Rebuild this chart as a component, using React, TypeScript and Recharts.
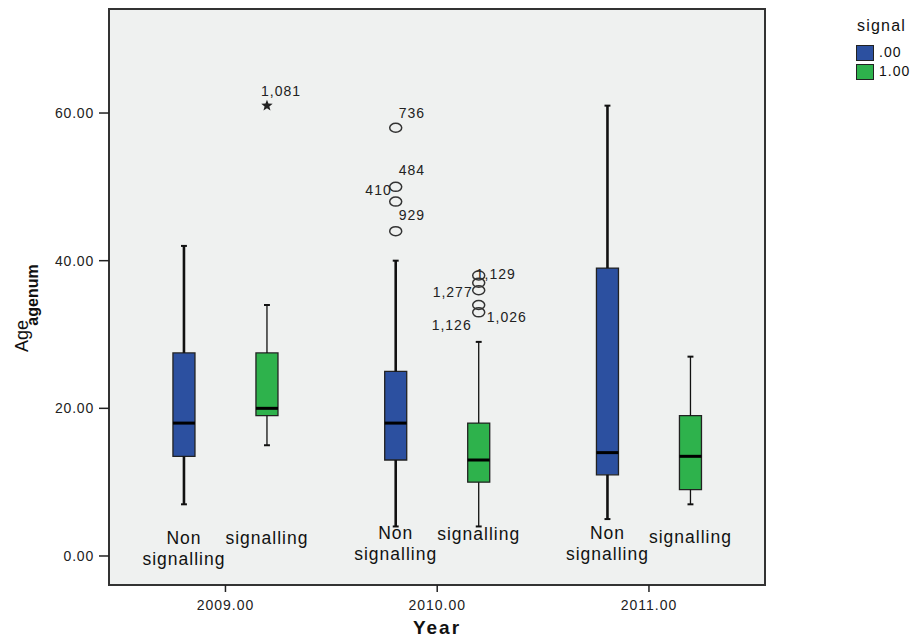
import React from 'react';
import { ComposedChart, Scatter, XAxis, YAxis, ReferenceArea, ReferenceLine } from 'recharts';

// ---------- data ----------
const YEARS = [2009, 2010, 2011];
const GROUP_NAMES = ['.00', '1.00'];
const GROUP_TEXT = [['Non', 'signalling'], ['signalling']];
const Y_TICKS = [0, 20, 40, 60];

// Non signalling (.00)
const NS_MIN = [7, 4, 5];
const NS_Q1 = [13.5, 13, 11];
const NS_MED = [18, 18, 14];
const NS_Q3 = [27.5, 25, 39];
const NS_MAX = [42, 40, 61];

// signalling (1.00)
const S_MIN = [15, 4, 7];
const S_Q1 = [19, 10, 9];
const S_MED = [20, 13, 13.5];
const S_Q3 = [27.5, 18, 19];
const S_MAX = [34, 29, 27];

const OUTLIERS = [
  { year: 2009, group: 1, value: 61, id: '1,081', extreme: true },
  { year: 2010, group: 0, value: 58, id: '736', extreme: false },
  { year: 2010, group: 0, value: 50, id: '484', extreme: false },
  { year: 2010, group: 0, value: 48, id: '410', extreme: false },
  { year: 2010, group: 0, value: 44, id: '929', extreme: false },
  { year: 2010, group: 1, value: 38, id: '1,129', extreme: false },
  { year: 2010, group: 1, value: 37, id: '', extreme: false },
  { year: 2010, group: 1, value: 36, id: '1,277', extreme: false },
  { year: 2010, group: 1, value: 34, id: '1,126', extreme: false },
  { year: 2010, group: 1, value: 33, id: '1,026', extreme: false },
];

// ---------- layout / style ----------
const X_DOMAIN = [2008.45, 2011.548];
const Y_DOMAIN = [-3.93, 74.09];
const GROUP_OFFSET = [-0.196, 0.196];
const BOX_HALF = 0.052;
const CAP_HALF = 0.014;
const COLORS = ['#2c50a0', '#2eb24c'];
const WHISKER_W = [2.6, 1.3];
const BG = '#eff1f0';
const FONT = '"Liberation Sans", Arial, sans-serif';
const CAT_LABEL_Y = [[2.44, 2.44], [3.12, 2.98], [3.12, 2.57]];
const LABEL_OFFSETS: Record<string, { dx: number; dy: number; anchor: string }> = {
  '1,081': { dx: -6, dy: -10, anchor: 'start' },
  '736': { dx: 3, dy: -10, anchor: 'start' },
  '484': { dx: 3, dy: -12, anchor: 'start' },
  '410': { dx: -4, dy: -7, anchor: 'end' },
  '929': { dx: 3, dy: -11, anchor: 'start' },
  '1,129': { dx: -3, dy: 4, anchor: 'start' },
  '1,277': { dx: -6, dy: 7, anchor: 'end' },
  '1,126': { dx: -7, dy: 25, anchor: 'end' },
  '1,026': { dx: 8, dy: 10, anchor: 'start' },
};

const STATS = [
  { min: NS_MIN, q1: NS_Q1, med: NS_MED, q3: NS_Q3, max: NS_MAX },
  { min: S_MIN, q1: S_Q1, med: S_MED, q3: S_Q3, max: S_MAX },
];

const boxes = YEARS.flatMap((year, i) =>
  STATS.map((s, g) => ({
    key: `${year}-${g}`,
    g,
    c: year + GROUP_OFFSET[g],
    min: s.min[i],
    q1: s.q1[i],
    med: s.med[i],
    q3: s.q3[i],
    max: s.max[i],
  }))
);

const outlierData = OUTLIERS.map((o) => ({
  x: o.year + GROUP_OFFSET[o.group],
  y: o.value,
  id: o.id,
  extreme: o.extreme,
}));

const catLabelData = YEARS.flatMap((year, i) =>
  GROUP_TEXT.map((lines, g) => ({
    x: year + GROUP_OFFSET[g],
    y: CAT_LABEL_Y[i][g],
    lines,
  }))
);

function starPath(cx: number, cy: number, R: number, r: number) {
  let d = '';
  for (let k = 0; k < 10; k++) {
    const ang = -Math.PI / 2 + (k * Math.PI) / 5;
    const rad = k % 2 === 0 ? R : r;
    d += (k === 0 ? 'M' : 'L') + (cx + rad * Math.cos(ang)).toFixed(2) + ',' + (cy + rad * Math.sin(ang)).toFixed(2);
  }
  return d + 'Z';
}

const OutlierShape = (props: any) => {
  const { cx, cy, payload } = props;
  if (cx == null || cy == null) return null;
  const off = LABEL_OFFSETS[payload.id];
  return (
    <g>
      {payload.extreme ? (
        <path d={starPath(cx, cy, 6, 2.5)} fill="#222" />
      ) : (
        <ellipse cx={cx} cy={cy} rx={6} ry={4.5} fill="none" stroke="#333" strokeWidth={1.5} />
      )}
      {payload.id && off ? (
        <text
          x={cx + off.dx}
          y={cy + off.dy}
          textAnchor={off.anchor as any}
          fontSize={14}
          letterSpacing={1}
          fill="#222"
          fontFamily={FONT}
        >
          {payload.id}
        </text>
      ) : null}
    </g>
  );
};

const CatLabelShape = (props: any) => {
  const { cx, cy, payload } = props;
  if (cx == null || cy == null) return null;
  return (
    <g>
      {payload.lines.map((t: string, k: number) => (
        <text
          key={k}
          x={cx}
          y={cy + k * 21}
          textAnchor="middle"
          dominantBaseline="central"
          fontSize={17.5}
          letterSpacing={1}
          fill="#111"
          fontFamily={FONT}
        >
          {t}
        </text>
      ))}
    </g>
  );
};

const YLabel = () => (
  <g fontFamily={FONT} fill="#111">
    <text x={0} y={0} transform="translate(28,336) rotate(-90)" textAnchor="middle" fontSize={18}>
      Age
    </text>
    <text x={0} y={0} transform="translate(38,295) rotate(-90)" textAnchor="middle" fontSize={16} fontWeight="bold">
      agenum
    </text>
  </g>
);

const XLabel = (props: any) => {
  const vb = props.viewBox || {};
  return (
    <text
      x={vb.x + vb.width / 2}
      y={634}
      textAnchor="middle"
      fontSize={19}
      fontWeight="bold"
      letterSpacing={2}
      fill="#111"
      fontFamily={FONT}
    >
      Year
    </text>
  );
};

export default function App() {
  return (
    <div style={{ position: 'absolute', left: 0, top: 0, width: 916, height: 639, background: '#fff', fontFamily: FONT }}>
      <ComposedChart width={916} height={639} margin={{ top: 9, right: 151, left: 0, bottom: 0 }}>
        <XAxis
          type="number"
          dataKey="x"
          domain={X_DOMAIN}
          ticks={YEARS}
          allowDataOverflow
          tickFormatter={(v: number) => v.toFixed(2)}
          axisLine={false}
          tickLine={{ stroke: '#222', strokeWidth: 1.5 }}
          tickSize={7}
          tickMargin={8}
          height={54}
          tick={{ fontSize: 14, fill: '#222', letterSpacing: 1, fontFamily: FONT }}
          label={{ content: XLabel }}
        />
        <YAxis
          type="number"
          dataKey="y"
          domain={Y_DOMAIN}
          ticks={Y_TICKS}
          allowDataOverflow
          tickFormatter={(v: number) => v.toFixed(2)}
          axisLine={false}
          tickLine={{ stroke: '#222', strokeWidth: 1.5 }}
          tickSize={10}
          tickMargin={5}
          width={109}
          tick={{ fontSize: 14, fill: '#222', letterSpacing: 0.8, fontFamily: FONT }}
          label={{ content: YLabel }}
        />
        <ReferenceArea
          x1={X_DOMAIN[0]}
          x2={X_DOMAIN[1]}
          y1={Y_DOMAIN[0]}
          y2={Y_DOMAIN[1]}
          fill={BG}
          fillOpacity={1}
          stroke="#333"
          strokeWidth={2}
          ifOverflow="visible"
          zIndex={-50}
        />
        {boxes.map((b) => (
          <ReferenceArea
            key={'box' + b.key}
            x1={b.c - BOX_HALF}
            x2={b.c + BOX_HALF}
            y1={b.q1}
            y2={b.q3}
            fill={COLORS[b.g]}
            fillOpacity={1}
            stroke="#222"
            strokeWidth={1.3}
            ifOverflow="visible"
            zIndex={300}
          />
        ))}
        {boxes.flatMap((b) => [
          <ReferenceLine
            key={'wl' + b.key}
            segment={[{ x: b.c, y: b.min }, { x: b.c, y: b.q1 }]}
            stroke="#111"
            strokeWidth={WHISKER_W[b.g]}
            ifOverflow="visible"
            zIndex={400}
          />,
          <ReferenceLine
            key={'wu' + b.key}
            segment={[{ x: b.c, y: b.q3 }, { x: b.c, y: b.max }]}
            stroke="#111"
            strokeWidth={WHISKER_W[b.g]}
            ifOverflow="visible"
            zIndex={400}
          />,
          <ReferenceLine
            key={'cl' + b.key}
            segment={[{ x: b.c - CAP_HALF, y: b.min }, { x: b.c + CAP_HALF, y: b.min }]}
            stroke="#111"
            strokeWidth={2}
            ifOverflow="visible"
            zIndex={400}
          />,
          <ReferenceLine
            key={'cu' + b.key}
            segment={[{ x: b.c - CAP_HALF, y: b.max }, { x: b.c + CAP_HALF, y: b.max }]}
            stroke="#111"
            strokeWidth={2}
            ifOverflow="visible"
            zIndex={400}
          />,
          <ReferenceLine
            key={'md' + b.key}
            segment={[{ x: b.c - BOX_HALF, y: b.med }, { x: b.c + BOX_HALF, y: b.med }]}
            stroke="#000"
            strokeWidth={3}
            ifOverflow="visible"
            zIndex={450}
          />,
        ])}
        <Scatter data={outlierData} shape={OutlierShape} isAnimationActive={false} />
        <Scatter data={catLabelData} shape={CatLabelShape} isAnimationActive={false} />
      </ComposedChart>
      <div style={{ position: 'absolute', left: 857, top: 17, fontSize: 16, letterSpacing: 1.2, color: '#111' }}>signal</div>
      {GROUP_NAMES.map((name, g) => (
        <div key={name}>
          <div
            style={{
              position: 'absolute',
              left: 856,
              top: 45 + g * 19,
              width: 16,
              height: 14,
              background: COLORS[g],
              border: '1px solid #222',
            }}
          />
          <div
            style={{
              position: 'absolute',
              left: 879,
              top: 44 + g * 19,
              fontSize: 14,
              letterSpacing: 1,
              lineHeight: '16px',
              color: '#111',
            }}
          >
            {name}
          </div>
        </div>
      ))}
    </div>
  );
}
